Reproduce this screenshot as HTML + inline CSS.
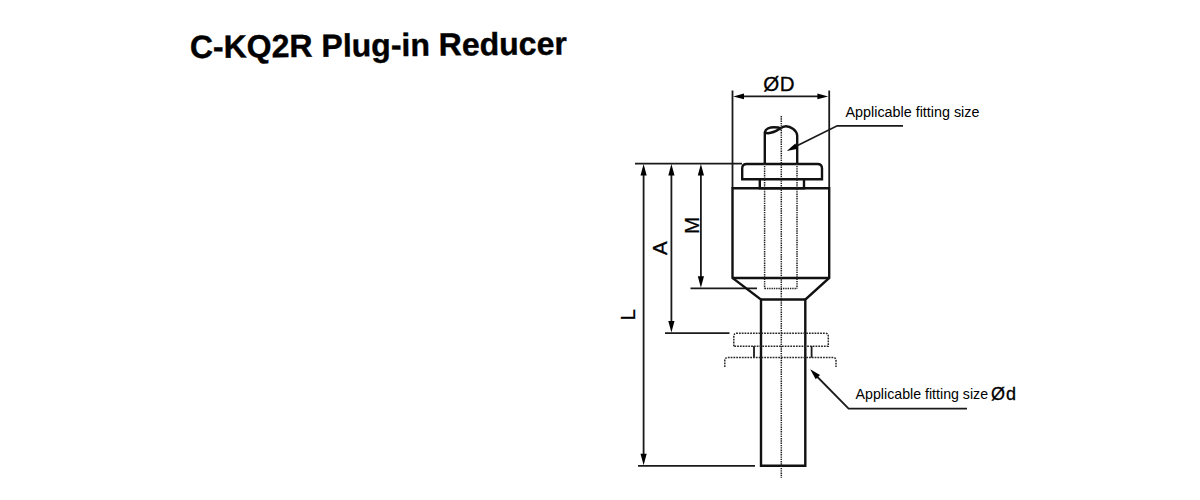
<!DOCTYPE html>
<html>
<head>
<meta charset="utf-8">
<style>
html,body{margin:0;padding:0;background:#fff;width:1200px;height:500px;overflow:hidden;}
svg{display:block;}

text{font-family:"Liberation Sans", sans-serif;fill:#000;}
.lb{stroke:#000;stroke-width:0.3;}
</style>
</head>
<body><div id="wrap">
<svg width="1200" height="500" viewBox="0 0 1200 500">
<!-- title -->
<text x="190" y="58" font-size="32" font-weight="bold" stroke="#000" stroke-width="0.4" transform="rotate(-0.55 190 58)">C-KQ2R Plug-in Reducer</text>

<g fill="none" stroke="#000" stroke-linecap="butt" stroke-linejoin="miter">
<!-- thin reference / dimension lines -->
<g stroke-width="1.8" stroke="#1a1a1a">
  <!-- ØD extension lines -->
  <line x1="732.5" y1="90.5" x2="732.5" y2="188.3"/>
  <line x1="829.2" y1="90.5" x2="829.2" y2="188.3"/>
  <!-- ØD dimension line -->
  <line x1="740" y1="96.4" x2="821" y2="96.4"/>
  <!-- top reference line -->
  <line x1="635" y1="163.6" x2="742" y2="163.6"/>
  <!-- M bottom reference -->
  <line x1="690.5" y1="288.4" x2="757" y2="288.4"/>
  <!-- A bottom reference -->
  <line x1="665" y1="333.2" x2="729.5" y2="333.2"/>
  <!-- L bottom reference -->
  <line x1="638" y1="465.8" x2="755" y2="465.8"/>
  <!-- L, A, M dimension lines -->
  <line x1="643.6" y1="170" x2="643.6" y2="459"/>
  <line x1="671.4" y1="170" x2="671.4" y2="327"/>
  <line x1="700.9" y1="170" x2="700.9" y2="282"/>
  <!-- leader upper -->
  <polyline points="903,125.8 837.2,125.8 794,147.3"/>
  <!-- leader lower -->
  <polyline points="967,408.7 848.6,408.7 816,375.5"/>
  <!-- ticks -->
  <line x1="754" y1="346" x2="754" y2="357.6"/>
  <line x1="811.6" y1="346" x2="811.6" y2="357.6"/>
</g>

<!-- object lines -->
<g stroke-width="2.4" stroke="#111">
  <!-- pin -->
  <path d="M764.8,163.6 L764.8,132.2 C765.5,128.8 770,127.2 774,127.2 C777,127.2 779.5,127.6 780.8,128.3 C782,126.8 784,126.2 786,126.2 C790.5,126.2 797.2,130.5 797.2,135.8 L797.2,163.6"/>
  <path d="M764.8,132.2 C767,134 773,133.2 780.8,128.3"/>
  <!-- collar -->
  <path d="M742.2,179.3 L742.2,168.5 Q742.2,164 746.7,164 L817.5,164 Q822,164 822,168.5 L822,179.3 Z"/>
  <!-- neck -->
  <polyline points="759.8,179.3 759.8,188.3 804,188.3 804,179.3"/>
  <!-- body -->
  <path d="M732.5,188.3 L829.2,188.3 L829.2,278 L805.3,299.5 L805.3,465.8 L761,465.8 L761,299.5 L732.5,278 Z"/>
  <line x1="732.5" y1="278" x2="829.2" y2="278"/>
  <line x1="761" y1="299.5" x2="805.3" y2="299.5"/>
</g>

<!-- hidden lines (dotted) -->
<g stroke-width="1.5" stroke="#222" stroke-dasharray="1.4 0.9">
  <line x1="764.6" y1="163.6" x2="764.6" y2="288.4"/>
  <line x1="797" y1="163.6" x2="797" y2="288.4"/>
  <line x1="764.6" y1="288.4" x2="797" y2="288.4"/>
  <!-- centerline -->
  <line x1="781.3" y1="116" x2="781.3" y2="477.7"/>
</g>
<!-- phantom collar (dashed) -->
<g stroke-width="1.5" stroke="#2a2a2a" stroke-dasharray="1.8 1">
  <path d="M733.8,346.2 L733.8,336.4 Q733.8,333.2 737,333.2 L825,333.2 Q828.3,333.2 828.3,336.4 L828.3,346.2 Z"/>
  <path d="M724.8,367 L724.8,360.5 Q724.8,357.6 727.8,357.6 L833,357.6 Q836,357.6 836,360.5 L836,367"/>
</g>
</g>

<!-- arrowheads -->
<g fill="#000" stroke="none">
  <polygon points="733.2,96.4 744.0,99.3 744.0,93.5"/>
  <polygon points="828.2,96.4 817.4,93.5 817.4,99.3"/>
  <polygon points="643.6,164.0 640.5,175.5 646.7,175.5"/>
  <polygon points="643.6,465.2 646.7,453.7 640.5,453.7"/>
  <polygon points="671.4,164.0 668.3,175.5 674.5,175.5"/>
  <polygon points="671.4,332.6 674.5,321.1 668.3,321.1"/>
  <polygon points="700.9,164.0 697.8,175.5 704.0,175.5"/>
  <polygon points="700.9,287.8 704.0,276.3 697.8,276.3"/>
  <polygon points="786.8,151.0 798.0,148.8 795.3,143.4"/>
  <polygon points="810.2,369.3 815.7,379.3 820.0,375.1"/>
</g>

<!-- labels -->
<text x="763.2" y="90.7" font-size="20.5" class="lb">Ø</text>
<text x="779.8" y="90.7" font-size="20.5" class="lb">D</text>
<text x="666.8" y="248.2" font-size="20.5" text-anchor="middle" class="lb" transform="rotate(-90 666.8 248.2)">A</text>
<text x="699.4" y="225.4" font-size="20.5" text-anchor="middle" class="lb" transform="rotate(-90 699.4 225.4)">M</text>
<text x="634.8" y="314.9" font-size="20.5" text-anchor="middle" class="lb" transform="rotate(-90 634.8 314.9)">L</text>
<text x="845.5" y="116.6" font-size="14.35" fill="#1a1a1a">Applicable fitting size</text>
<text x="855.6" y="398.6" font-size="14.2" fill="#1a1a1a">Applicable fitting size</text>
<text x="991" y="399.5" font-size="18" class="lb">Ø</text>
<text x="1005.9" y="399.5" font-size="18" class="lb">d</text>
</svg>
</div></body>
</html>
